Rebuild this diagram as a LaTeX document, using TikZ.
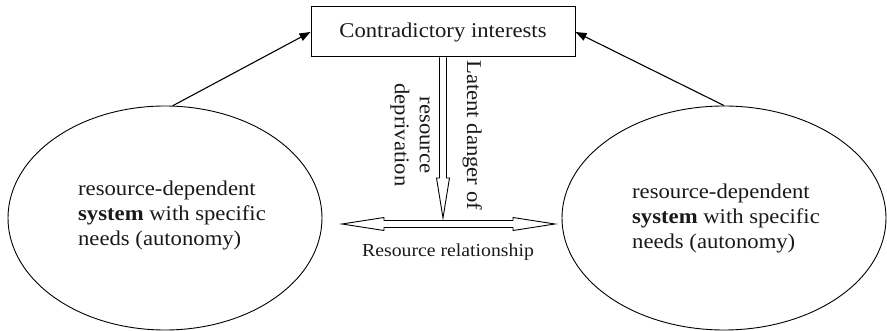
\documentclass[tikz,border=0pt]{standalone}
\usepackage{fontspec}
\setmainfont{Liberation Serif}[FakeStretch=1.08]
\usetikzlibrary{shapes.geometric,arrows.meta,calc}

\tikzset{
  x=1pt, y=1pt,
  every node/.style={inner sep=0pt, text=black!90},
  mainfont/.style={font=\fontsize{21}{25}\selectfont},
  smallfont/.style={font=\fontsize{18.3}{22}\selectfont},
  titlebox/.style={draw, line width=1pt, minimum width=264, minimum height=50, mainfont},
  sysell/.style={draw, ellipse, line width=0.9pt, minimum height=224},
  systext/.style={align=left, mainfont},
  pointer/.style={line width=1.1pt, -{Triangle[length=11pt,width=8pt]}},
  hollow/.style={draw, line width=0.9pt, fill=white},
}

\begin{document}
\begin{tikzpicture}
  \useasboundingbox (0,0) rectangle (887,-331);

  % central box
  \node[titlebox] (box) at (443,-32) {Contradictory interests};

  % the two systems
  \node[sysell, minimum width=314] (lell) at (165,-218) {};
  \node[sysell, minimum width=324] (rell) at (724,-218) {};
  \node[systext] (ltext) at (172,-215.5)
    {resource-dependent\\\textbf{system} with specific\\needs (autonomy)};
  \node[systext] (rtext) at (726,-218.5)
    {resource-dependent\\\textbf{system} with specific\\needs (autonomy)};

  % arrows from the systems to the box
  \draw[pointer] (lell.86) -- (box.west);
  \draw[pointer] (rell.north) -- (box.east);

  % hollow downward arrow from the box
  \coordinate (vtip) at (443,-218);
  \draw[hollow] ($(box.south)+(-3.5,0)$) -- ($(vtip)+(-3.5,40)$)
    -- ($(vtip)+(-6.5,40)$) -- (vtip) -- ($(vtip)+(6.5,40)$)
    -- ($(vtip)+(3.5,40)$) -- ($(box.south)+(3.5,0)$);

  % hollow double-headed arrow between the systems
  \coordinate (hl) at (342,-224);
  \coordinate (hr) at (555,-224);
  \draw[hollow] (hl) -- ($(hl)+(42,6.5)$) -- ($(hl)+(42,3.5)$)
    -- ($(hr)+(-42,3.5)$) -- ($(hr)+(-42,6.5)$) -- (hr)
    -- ($(hr)+(-42,-6.5)$) -- ($(hr)+(-42,-3.5)$)
    -- ($(hl)+(42,-3.5)$) -- ($(hl)+(42,-6.5)$) -- cycle;

  % labels
  \node[mainfont, rotate=-90, anchor=base west] (danger) at (467,-60)
    {Latent danger of};
  \node[mainfont, rotate=-90, align=center] (depriv) at (410,-135)
    {resource\\deprivation};
  \node[smallfont, anchor=base] (rel) at (448,-257) {Resource relationship};
\end{tikzpicture}
\end{document}
